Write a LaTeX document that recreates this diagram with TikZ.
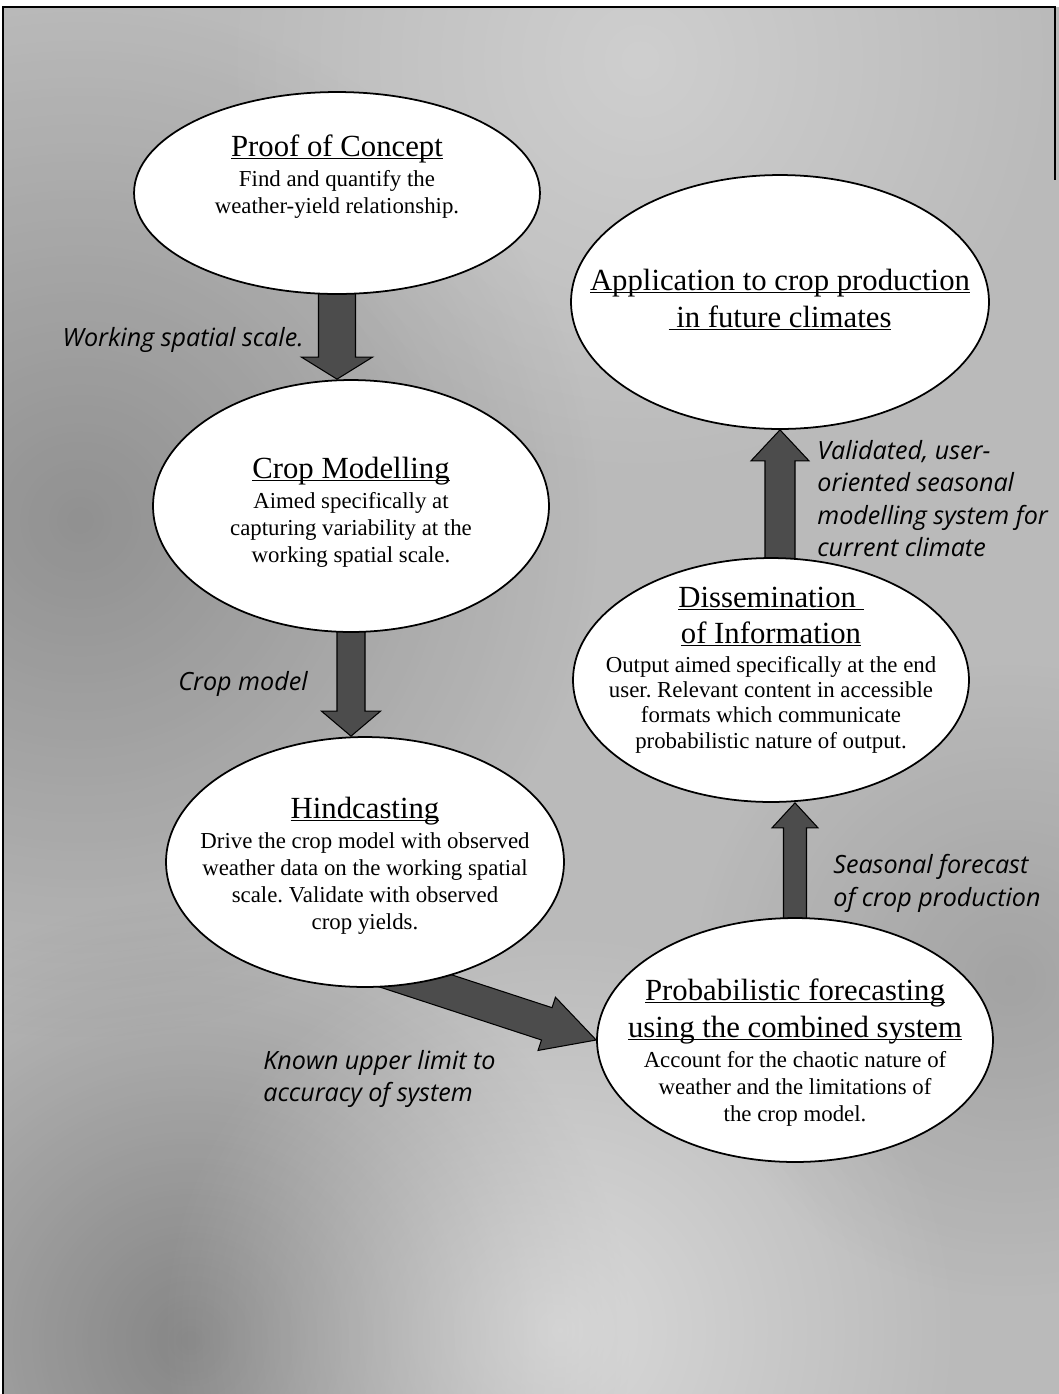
\documentclass[tikz,border=0pt]{standalone}
\usepackage{fontspec}
\setmainfont{Liberation Serif}
\newfontfamily\labelfont{Open Sans}
\usetikzlibrary{shapes.geometric,calc,fadings}

\pgfdeclarelayer{bg}
\pgfdeclarelayer{arrowlayer}
\pgfsetlayers{bg,arrowlayer,main}

\tikzfading[name=softspot, inner color=transparent!0, outer color=transparent!100]

\newcommand{\headfont}{\fontsize{17.5}{21}\selectfont}
\newcommand{\ulhead}[1]{{\headfont\underline{\smash{#1}}}}
% block arrow: tail, tip, half shaft, half head, head length
\newcommand{\fatarrow}[5]{%
	\begin{pgfonlayer}{arrowlayer}
	\coordinate (fa-tail) at #1;
	\coordinate (fa-tip) at #2;
	\coordinate (fa-neck) at ($(fa-tip)!#5!(fa-tail)$);
	\filldraw[blockarrow] ($(fa-tail)!#3!90:(fa-tip)$) -- ($(fa-neck)!#3!90:(fa-tip)$)
		-- ($(fa-neck)!#4!90:(fa-tip)$) -- (fa-tip)
		-- ($(fa-neck)!#4!-90:(fa-tip)$) -- ($(fa-neck)!#3!-90:(fa-tip)$)
		-- ($(fa-tail)!#3!-90:(fa-tip)$) -- cycle;
	\end{pgfonlayer}}

\tikzset{
	stage/.style={ellipse, draw, line width=1pt, fill=white, inner sep=0pt},
	stagetext/.style={align=center, inner sep=0pt, font=\fontsize{13}{15.3}\selectfont},
	caption/.style={align=left, inner sep=0pt, font=\labelfont\itshape\fontsize{14.3}{18.5}\selectfont},
	blockarrow/.style={fill=black!70, draw=black, line width=0.6pt, line join=miter},
	paper/.style={black!27},
	spot/.style={path fading=softspot},
}
\frenchspacing

\begin{document}
\begin{tikzpicture}[x=0.02cm, y=-0.02cm]
	\useasboundingbox (0,0) rectangle (1059,1394);
	\begin{pgfonlayer}{bg}
		\fill[paper] (3,7) rectangle (1059,1394);
		\begin{scope}
			\clip (3,7) rectangle (1059,1394);
			\fill[spot, black, opacity=0.22] (80,520) circle (520);
			\fill[spot, black, opacity=0.28] (190,1340) circle (440);
			\fill[spot, white, opacity=0.45] (560,1330) circle (400);
			\fill[spot, white, opacity=0.3] (640,60) circle (420);
			\fill[spot, black, opacity=0.12] (1010,980) circle (320);
		\end{scope}
		\draw[line width=1.3pt] (3,1394) -- (3,7) -- (1055,7) -- (1055,180);
	\end{pgfonlayer}

	% stages
	\node[stage, minimum width=8.12cm, minimum height=4.04cm] (proof) at (337,193) {};
	\node[stage, minimum width=7.92cm, minimum height=5.04cm] (crop) at (351,506) {};
	\node[stage, minimum width=7.96cm, minimum height=5cm] (hind) at (365,862) {};
	\node[stage, minimum width=8.36cm, minimum height=5.08cm] (app) at (780,302) {};
	\node[stage, minimum width=7.92cm, minimum height=4.88cm] (diss) at (771,680) {};
	\node[stage, minimum width=7.92cm, minimum height=4.88cm] (prob) at (795,1040) {};

	\node[stagetext, anchor=north] (proof-txt) at (337,156) {\ulhead{Proof of Concept}\\[2pt]
		Find and quantify the\\weather-yield relationship.};
	\node[stagetext, anchor=north] (crop-txt) at (351,478) {\ulhead{Crop Modelling}\\[2pt]
		Aimed specifically at\\capturing variability at the\\working spatial scale.};
	\node[stagetext, anchor=north] (hind-txt) at (365,818) {\ulhead{Hindcasting}\\[2pt]
		Drive the crop model with observed\\weather data on the working spatial\\scale. Validate with observed\\crop yields.};
	\node[stagetext, anchor=north] (app-txt) at (780,290) {\ulhead{Application to crop production}\\[5.7pt]
		\ulhead{\ in future climates}};
	\node[stagetext, anchor=north, font=\fontsize{13}{14.5}\selectfont] (diss-txt) at (771,607) {\ulhead{Dissemination\ }\\[5.9pt]
		\ulhead{of Information}\\[1.9pt]
		Output aimed specifically at the end\\user. Relevant content in accessible\\formats which communicate\\probabilistic nature of output.};
	\node[stagetext, anchor=north] (prob-txt) at (795,1000) {\ulhead{Probabilistic forecasting}\\[5.7pt]
		\ulhead{using the combined system}\\[2pt]
		Account for the chaotic nature of\\weather and the limitations of\\the crop model.};

	% links
	\fatarrow{(proof.center)}{(proof.south |- crop.north)}{0.37cm}{0.71cm}{0.44cm}
	\fatarrow{(crop.center)}{(crop.south |- hind.north)}{0.28cm}{0.59cm}{0.5cm}
	\fatarrow{($(hind.-65)!-1cm!(prob.west)$)}{(prob.west)}{0.34cm}{0.56cm}{1.04cm}
	\fatarrow{(prob.center)}{(prob.center |- diss.south)}{0.23cm}{0.46cm}{0.5cm}
	\fatarrow{(app.south |- diss.center)}{(app.south)}{0.3cm}{0.58cm}{0.62cm}

	\node[caption, anchor=base east] (scale-lbl) at (304,346) {Working spatial scale.};
	\node[caption, anchor=base east] (model-lbl) at (308,690) {Crop model};
	\node[caption, anchor=north west] (limit-lbl) at (263,1050) {Known upper limit to\\accuracy of system};
	\node[caption, anchor=north west] (valid-lbl) at (817,440) {Validated, user-\\oriented seasonal\\modelling system for\\current climate};
	\node[caption, anchor=north west] (season-lbl) at (833,854) {Seasonal forecast\\of crop production};
\end{tikzpicture}
\end{document}
